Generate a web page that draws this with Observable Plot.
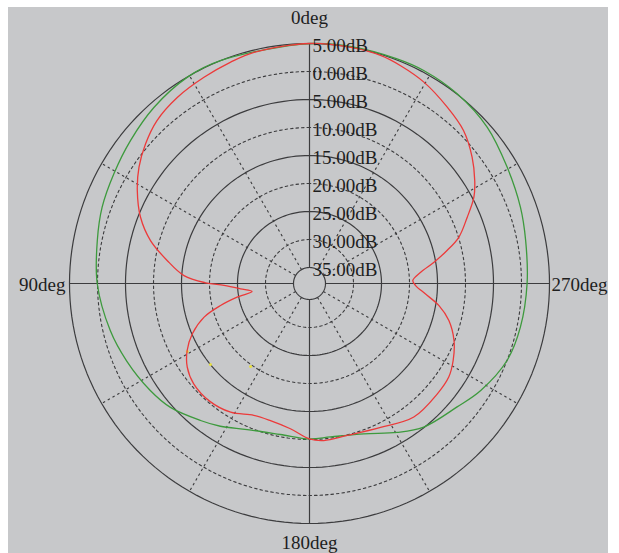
<!DOCTYPE html>
<html><head><meta charset="utf-8">
<script src="https://cdn.jsdelivr.net/npm/d3@7"></script>
<script src="https://cdn.jsdelivr.net/npm/@observablehq/plot@0.6"></script>
<style>
body{margin:0;background:#fff;}
#wrap{position:relative;width:619px;height:553px;overflow:hidden;}
#bg{position:absolute;left:8px;top:7px;width:600px;height:546px;background:#c7c8ca;}
#chart{position:absolute;left:0;top:0;}
</style></head><body>
<div id="wrap"><div id="bg"></div><div id="chart"></div></div>
<script>
// ring levels (dB) and their labels as printed
const ringLevels = [5, 0, -5, -10, -15, -20, -25, -30, -35];
const ringLabels = ["5.00dB", "0.00dB", "5.00dB", "10.00dB", "15.00dB", "20.00dB", "25.00dB", "30.00dB", "35.00dB"];
const spokeAngles = [0, 30, 60, 90, 120, 150, 180, 210, 240, 270, 300, 330];
const angleLabelAngles = [0, 90, 180, 270];
const angleLabels = ["0deg", "90deg", "180deg", "270deg"];

// red pattern (angle deg, dB)
const redAngles = [0, 13.5, 19.6, 27.1, 35.4, 43.1, 49.6, 55.7, 61.6, 68.6, 74.9, 80.8, 86.4, 89.6, 91.3, 94.4, 97.9, 100.7, 103.9, 107.7, 113.2, 118.7, 124.4, 130.9, 139.8, 148.5, 157.1, 164.1, 172.5, 180, 185.2, 193.9, 206.3, 218, 229.2, 236.1, 241.8, 248.4, 255.1, 260.3, 264.9, 268.9, 271.7, 275.8, 279.7, 283.5, 287.2, 292.8, 297.7, 301.9, 307.8, 314.8, 322, 330.4, 337.3, 342.7, 350];
const redDb = [5.0, 4.6, 4.1, 3.5, 2.9, 2.0, 0.6, -1.0, -2.9, -5.45, -8.45, -12.1, -15.4, -19.3, -22.6, -25.5, -27.5, -24.7, -21.5, -18.1, -15.1, -12.95, -11.4, -10.5, -10.3, -10.9, -12.3, -12.4, -11.7, -10.1, -9.7, -9.9, -9.2, -7.6, -7.7, -7.9, -8.75, -10.1, -12.1, -14.4, -17.1, -18.9, -19.4, -17.9, -15.3, -12.6, -9.95, -7.3, -4.7, -3.1, -1.1, 0.9, 2.1, 3.5, 4.3, 4.8, 4.95];

// green pattern (angle deg, dB)
const greenAngles = [0, 21.8, 30.7, 41.4, 51.4, 60.7, 69.8, 78.6, 90, 103.3, 113, 123.9, 131.7, 141.5, 148, 156.9, 169.1, 180, 187.8, 199.9, 210.5, 218.5, 230.1, 238, 248.7, 258.3, 270, 281.3, 289.9, 300.5, 311.3, 322.1, 331.8, 338.7, 350];
const greenDb = [5.0, 5.0, 4.95, 4.1, 3.05, 2.2, 1.6, 0.8, 0.05, -1.3, -2.4, -3.6, -4.6, -6.6, -7.8, -9.5, -10.4, -10.1, -10.2, -9.3, -7.0, -5.1, -3.5, -1.8, 0.0, 0.6, 1.0, 1.5, 2.2, 3.1, 4.4, 5.07, 5.3, 5.2, 5.1];

// faint yellow marks
const yellowAngles = [119.1, 129.3, 144.6];
const yellowDb = [-12.9, -15.0, -19.7];

const rho = db => (16 + (db + 35) * 5.6) / 240;
const px = (a, db) => -rho(db) * Math.sin(a * Math.PI / 180);
const py = (a, db) => rho(db) * Math.cos(a * Math.PI / 180);

const rings = [];
ringLevels.forEach((lv, i) => {
  for (let a = 0; a <= 360; a += 2) rings.push({lv, solid: i % 2 === 0, a});
});
const spokes = spokeAngles.map(a => ({a, solid: a % 90 === 0}));
const ringRows = ringLevels.map((lv, i) => ({lv, label: ringLabels[i]}));
const angRows = angleLabelAngles.map((a, i) => ({a, label: angleLabels[i]}));
const red = redAngles.map((a, i) => ({a, db: redDb[i]}));
const green = greenAngles.map((a, i) => ({a, db: greenDb[i]}));
const yellow = yellowAngles.map((a, i) => ({a, db: yellowDb[i]}));

const font = "Liberation Serif, Times New Roman, serif";
const gridCol = "#3c3c3e";

const chart = Plot.plot({
  width: 619, height: 553,
  margin: 0,
  style: {background: "transparent", fontFamily: font},
  x: {domain: [-1, 1], range: [69, 549], axis: null},
  y: {domain: [-1, 1], range: [523, 43], axis: null},
  marks: [
    Plot.line(rings.filter(d => !d.solid), {x: d => px(d.a, d.lv), y: d => py(d.a, d.lv), z: "lv", stroke: gridCol, strokeWidth: 1.1, strokeDasharray: "2.5,3"}),
    Plot.line(rings.filter(d => d.solid), {x: d => px(d.a, d.lv), y: d => py(d.a, d.lv), z: "lv", stroke: gridCol, strokeWidth: 1.2}),
    Plot.link(spokes.filter(d => !d.solid), {x1: d => px(d.a, -35), y1: d => py(d.a, -35), x2: d => px(d.a, 5), y2: d => py(d.a, 5), stroke: gridCol, strokeWidth: 1.1, strokeDasharray: "2.5,3"}),
    Plot.link(spokes.filter(d => d.solid), {x1: d => px(d.a, -35), y1: d => py(d.a, -35), x2: d => px(d.a, 5), y2: d => py(d.a, 5), stroke: gridCol, strokeWidth: 1.2}),
    Plot.dot(yellow, {x: d => px(d.a, d.db), y: d => py(d.a, d.db), r: 1.5, fill: "#e8e040", stroke: "none"}),
    Plot.line(green, {x: d => px(d.a, d.db), y: d => py(d.a, d.db), curve: "catmull-rom-closed", stroke: "#3d9a3d", strokeWidth: 1.3}),
    Plot.line(red, {x: d => px(d.a, d.db), y: d => py(d.a, d.db), curve: "catmull-rom-closed", stroke: "#ec3a3a", strokeWidth: 1.3}),
    Plot.text(ringRows, {x: d => 0, y: d => rho(d.lv), text: "label", textAnchor: "start", dx: 3, dy: 2, fontSize: 19, fill: "#1e1e1e"}),
    Plot.text(angRows.filter(d => d.a === 0), {x: d => px(d.a, 5), y: d => py(d.a, 5), text: "label", textAnchor: "middle", dy: -26, fontSize: 19, fill: "#1e1e1e"}),
    Plot.text(angRows.filter(d => d.a === 180), {x: d => px(d.a, 5), y: d => py(d.a, 5), text: "label", textAnchor: "middle", dy: 19, fontSize: 19, fill: "#1e1e1e"}),
    Plot.text(angRows.filter(d => d.a === 90), {x: d => px(d.a, 5), y: d => py(d.a, 5), text: "label", textAnchor: "end", dx: -4, dy: 1, fontSize: 19, fill: "#1e1e1e"}),
    Plot.text(angRows.filter(d => d.a === 270), {x: d => px(d.a, 5), y: d => py(d.a, 5), text: "label", textAnchor: "start", dx: 2, dy: 1, fontSize: 19, fill: "#1e1e1e"})
  ]
});
document.getElementById("chart").appendChild(chart);
</script>
</body></html>
